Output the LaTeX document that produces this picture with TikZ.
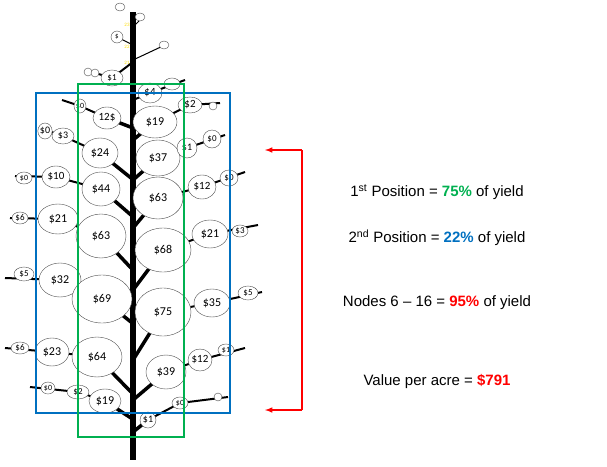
\documentclass[tikz,border=0pt]{standalone}
\usepackage{fontspec}
\setmainfont{Liberation Sans}
\newfontfamily\budfont{Carlito}
\usetikzlibrary{shapes.geometric}

\definecolor{posgreen}{RGB}{0,176,80}
\definecolor{posblue}{RGB}{0,112,192}
\definecolor{posred}{RGB}{255,0,0}

\tikzset{
  bud/.style={draw=black!70, fill=white, ellipse, inner sep=0pt, font=\budfont},
  stemline/.style={line width=6pt},
  twig/.style={line width=2pt},
  nodenum/.style={text=yellow!80!orange, font=\budfont\tiny, inner sep=0pt},
  yieldtext/.style={font=\fontsize{15}{18}\selectfont, anchor=center}
}

\begin{document}
\begin{tikzpicture}[x=1pt, y=-1pt, >=latex]
\useasboundingbox (0,0) rectangle (607,466);

% Main stem
\coordinate (stemtop) at (133,12);
\coordinate (stembot) at (133,460);
\draw [stemline] (stemtop) -- (stembot);

% Branches: stem point / main bud / side bud / tip
\foreach \sx/\sy/\mx/\my/\ox/\oy/\ex/\ey in {
  133/128/107/118/80/106/62/100,
  131/178/100/153/63/136/40/128,
  131/215/101/189/56/177/15/176,
  131/268/101/236/58/219/10/218,
  131/322/102/299/60/280/5/278,
  131/392/97/357/52/352/5/348,
  131/418/105/401/78/392/30/387,
  133/140/155/122/190/105/220/103,
  133/180/158/158/187/148/225/135,
  133/228/158/198/202/187/245/172,
  133/290/163/250/210/234/258/225,
  133/360/163/312/212/303/262/292,
  133/400/166/372/200/360/245/348,
  133/432/148/420/180/403/228/397} {
  \draw [line width=3.5pt] (\sx,\sy) -- (\mx,\my);
  \draw [twig] (\mx,\my) -- (\ox,\oy) -- (\ex,\ey);
}
\draw [twig] (133,62) -- (112,78) -- (85,70);
\draw [twig] (133,100) -- (150,93) -- (185,80);
\draw [line width=1pt] (133,27) -- (143,17);
\draw [line width=1pt] (133,45) -- (117,37);
\draw [line width=1pt] (133,60) -- (165,45);

% Node numbers on the stem
\foreach \num/\ny in {23/25, 22/47, 21/63} {
  \node [nodenum] (num\num) at (127,\ny) {\num};
}

% Buds with their values
\foreach \bx/\by/\rx/\ry/\lab/\fs [count=\i] in {
  120/7/5/4//6, 140/17/5/4//6, 117/37/6/6/\$/7, 164/45/5/4//6,
  88/72/4/4//6, 95/73/4/4//6, 112/78/11/8/\$1/9, 172/84/8/6//6,
  150/93/12/10/\$4/11, 190/105/12/8/\$2/11, 213/106/4/4//6,
  107/118/14/11/12\$/11, 155/122/22/16/\$19/12, 80/106/6/7/\$0/8,
  45/131/7/8/\$0/10, 63/136/11/8/\$3/10, 100/153/18/15/\$24/12,
  158/158/22/18/\$37/12, 187/148/10/10/\$1/10, 212/139/9/9/\$0/9,
  24/178/8/6/\$0/8, 56/177/14/11/\$10/11, 101/189/19/17/\$44/12,
  158/198/25/21/\$63/12, 202/187/14/12/\$12/11, 229/178/9/8/\$0/9,
  20/218/8/6/\$6/9, 58/219/20/15/\$21/12, 101/236/25/22/\$63/12,
  163/250/28/22/\$68/12, 210/234/18/14/\$21/12, 240/231/8/6/\$3/9,
  24/274/10/7/\$5/9, 60/280/21/17/\$32/12, 102/299/30/24/\$69/12,
  163/312/28/24/\$75/12, 212/303/18/14/\$35/12, 248/293/10/7/\$5/9,
  20/348/9/6/\$6/9, 52/352/17/14/\$23/12, 97/357/25/20/\$64/12,
  166/372/20/17/\$39/12, 200/360/12/11/\$12/11, 226/350/8/6/\$1/8,
  48/388/7/6/\$0/8, 78/392/11/7/\$2/9, 105/401/16/12/\$19/12,
  148/420/8/8/\$1/10, 180/403/8/6/\$0/8, 218/397/4/4//6} {
  \node [bud, minimum width=2*\rx pt, minimum height=2*\ry pt,
    font=\budfont\fontsize{\fs}{\fs}\selectfont] (bud\i) at (\bx,\by) {\lab};
}

% Position boxes
\draw [posblue, line width=2.5pt] (36,93) rectangle (230,413);
\draw [posgreen, line width=2.5pt] (78,84) rectangle (184,437);

% Bracket for the nodes 6 - 16 range
\coordinate (brtop) at (302,150);
\coordinate (brbot) at (302,410);
\coordinate (artop) at (265,150);
\coordinate (arbot) at (265,410);
\draw [posred, line width=1.5pt, ->] (brtop) -- (artop);
\draw [posred, line width=1.5pt, ->] (brbot) -- (arbot);
\draw [posred, line width=1.5pt] (brtop) -- (brbot);

% Yield notes
\node [yieldtext] (first) at (437,192) {1\textsuperscript{st} Position = \textbf{\textcolor{posgreen}{75\%}} of yield};
\node [yieldtext] (second) at (437,238) {2\textsuperscript{nd} Position = \textbf{\textcolor{posblue}{22\%}} of yield};
\node [yieldtext] (nodes) at (437,303) {Nodes 6 -- 16 = \textbf{\textcolor{posred}{95\%}} of yield};
\node [yieldtext] (value) at (437,381) {Value per acre = \textbf{\textcolor{posred}{\$791}}};
\end{tikzpicture}
\end{document}
